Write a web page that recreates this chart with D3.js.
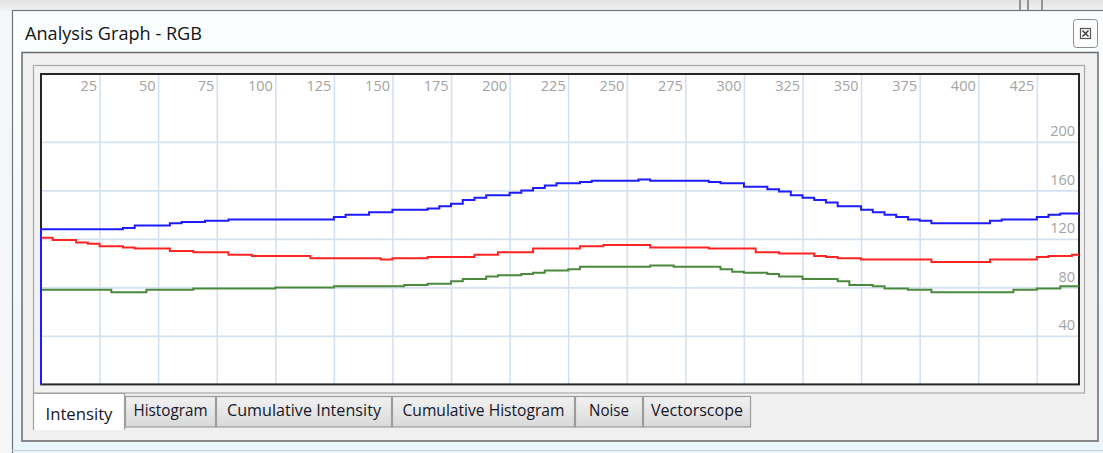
<!DOCTYPE html>
<html><head><meta charset="utf-8">
<script src="https://cdn.jsdelivr.net/npm/d3@7"></script>
<style>
html,body{margin:0;padding:0;background:#fff;}
svg{display:block;font-family:"Open Sans","Noto Sans",sans-serif;}
</style></head>
<body><svg id="c" width="1103" height="453"></svg>
<script>
// ---- data (x sampled every 5 pixels of the profile, 0..440) ----
const xStep = 5;
const blueValues = [128,128,128,128,128,128,128,129,131,131,131,133,134,134,135,135,136,136,136,136,136,136,136,136,136,138,140,140,142,142,144,144,144,145,147,149,152,154,156,156,158,160,162,164,166,166,167,168,168,168,168,169,168,168,168,168,168,167,166,166,163,163,161,159,156,154,152,150,147,147,144,142,140,138,136,135,133,133,133,133,133,135,136,136,136,138,140,141,141];
const redValues = [121,119,119,117,116,114,114,113,112,112,112,110,110,109,109,109,107,107,106,106,106,106,106,104,104,104,104,104,104,103,104,104,104,105,105,105,105,107,107,109,109,109,112,112,112,112,114,114,115,115,115,115,113,113,113,113,113,112,112,112,112,109,109,108,108,108,106,105,104,104,103,103,103,103,103,103,101,101,101,101,101,103,103,103,103,105,106,106,107];
const greenValues = [78,78,78,78,78,78,76,76,76,78,78,78,78,79,79,79,79,79,79,79,80,80,80,80,80,81,81,81,81,81,81,82,82,83,83,85,87,87,89,90,90,91,92,94,94,95,97,97,97,97,97,97,98,98,97,97,97,97,95,93,92,92,91,89,89,87,87,87,85,82,82,81,79,79,78,78,76,76,76,76,76,76,76,78,78,79,79,81,81];
const xTicks = [25,50,75,100,125,150,175,200,225,250,275,300,325,350,375,400,425];
const yTicks = [40,80,120,160,200];
const xMax = 443, yMax = 256;
const tabs = ["Intensity","Histogram","Cumulative Intensity","Cumulative Histogram","Noise","Vectorscope"];
const tabEdges = [33,125,216,392,575,643,751];
const tabTextWidths = [67,74,154,162,40,92];
const titleText = "Analysis Graph - RGB";

const svg = d3.select("#c");
const defs = svg.append("defs");
const tg = defs.append("linearGradient").attr("id","titleG").attr("x1",0).attr("y1",0).attr("x2",0).attr("y2",1);
tg.append("stop").attr("offset","0").attr("stop-color","#fbfeff");
tg.append("stop").attr("offset","1").attr("stop-color","#e9f6fc");
const tabG = defs.append("linearGradient").attr("id","tabG").attr("x1",0).attr("y1",0).attr("x2",0).attr("y2",1);
tabG.append("stop").attr("offset","0").attr("stop-color","#f2f2f2");
tabG.append("stop").attr("offset","1").attr("stop-color","#d9d9d9");
const topG = defs.append("linearGradient").attr("id","topG").attr("x1",0).attr("y1",0).attr("x2",0).attr("y2",1);
topG.append("stop").attr("offset","0").attr("stop-color","#e2e2e2");
topG.append("stop").attr("offset","1").attr("stop-color","#f2f2f2");

// background outside window
svg.append("rect").attr("width",1103).attr("height",453).attr("fill","#f4f6f7");
svg.append("rect").attr("width",1103).attr("height",11).attr("fill","url(#topG)");
[1020,1028,1042].forEach(x=>svg.append("line").attr("x1",x).attr("x2",x).attr("y1",0).attr("y2",10).attr("stroke","#777").attr("stroke-width",1.5));

// window
svg.append("rect").attr("x",12.5).attr("y",10.5).attr("width",1100).attr("height",450)
  .attr("fill","url(#titleG)").attr("stroke","#6f7478").attr("stroke-width",1.2);
svg.append("text").attr("x",25).attr("y",40).attr("font-size",18).attr("fill","#141414")
  .attr("textLength",177).attr("lengthAdjust","spacingAndGlyphs").text(titleText);
svg.append("line").attr("x1",12).attr("x2",1103).attr("y1",450.5).attr("y2",450.5).attr("stroke","#c9ced2");

// close button
svg.append("rect").attr("x",1073.5).attr("y",19.5).attr("width",24).attr("height",28).attr("rx",3)
  .attr("fill","#fdfdfd").attr("stroke","#8a8d90");
svg.append("rect").attr("x",1080.5).attr("y",28.5).attr("width",10).attr("height",10)
  .attr("fill","none").attr("stroke","#555").attr("stroke-width",1.2);
svg.append("path").attr("d","M1082.5,30.5L1088.5,36.5M1088.5,30.5L1082.5,36.5")
  .attr("stroke","#444").attr("stroke-width",1.6);

// outer panel
svg.append("rect").attr("x",22).attr("y",52.5).attr("width",1076).attr("height",388.5)
  .attr("fill","#f0f0f0").attr("stroke","#6a6a6a").attr("stroke-width",1.5);
// inner panel (tab page)
svg.append("rect").attr("x",33.5).attr("y",65.5).attr("width",1051).attr("height",327.5)
  .attr("fill","#f2f2f2").attr("stroke","#a8a8a8").attr("stroke-width",1.2);

// plot area
const L = 41, R = 1079, T = 74, B = 384.4;
const x = d3.scaleLinear().domain([0,xMax]).range([L,R]);
const y = d3.scaleLinear().domain([0,yMax]).range([B,T]);
svg.append("rect").attr("x",L).attr("y",T).attr("width",R-L).attr("height",B-T).attr("fill","#fff");

defs.append("clipPath").attr("id","clipP").append("rect").attr("x",L-1).attr("y",T).attr("width",R-L+1).attr("height",B-T+1);

// vertical grid + x labels
const gx = svg.append("g").attr("transform",`translate(0,${T})`)
  .call(d3.axisBottom(x).tickValues(xTicks).tickSize(B-T).tickFormat(d3.format("d")));
gx.select(".domain").remove();
gx.selectAll(".tick line").attr("stroke","#d4e2f0").attr("stroke-width",1.6);
gx.selectAll(".tick text").attr("y",17).attr("dy",null).attr("x",-3).attr("text-anchor","end")
  .attr("fill","#a3a3a3").attr("font-size",14.5).attr("font-family","'Open Sans','Noto Sans',sans-serif");

// horizontal grid + y labels
const gy = svg.append("g").attr("transform",`translate(${R},0)`)
  .call(d3.axisLeft(y).tickValues(yTicks).tickSize(R-L).tickFormat(d3.format("d")));
gy.select(".domain").remove();
gy.selectAll(".tick line").attr("stroke","#d4e2f0").attr("stroke-width",1.6);
gy.selectAll(".tick text").attr("x",-4).attr("y",-6).attr("dy",null).attr("text-anchor","end")
  .attr("fill","#a3a3a3").attr("font-size",14.5).attr("font-family","'Open Sans','Noto Sans',sans-serif");

// plot border (lines drawn over it, as in the original)
svg.append("rect").attr("x",L).attr("y",T).attr("width",R-L).attr("height",B-T)
  .attr("fill","none").attr("stroke","#262626").attr("stroke-width",2);

// series lines
const line = d3.line().x(d=>x(d[0])).y(d=>y(d[1])).curve(d3.curveStepAfter);
function seriesPoints(vals){
  const pts = [[0,0]];
  vals.forEach((v,i)=>pts.push([i*xStep,v]));
  pts.push([xMax, vals[vals.length-1]]);
  return pts;
}
const plotG = svg.append("g").attr("clip-path","url(#clipP)");
[["#ff2424",redValues],["#4b8a3c",greenValues],["#1c1cff",blueValues]].forEach(([c,v])=>{
  plotG.append("path").attr("d",line(seriesPoints(v))).attr("fill","none")
    .attr("stroke",c).attr("stroke-width",2);
});

// tabs
tabs.forEach((t,i)=>{
  const x0 = tabEdges[i], x1 = tabEdges[i+1];
  const sel = i===0;
  if(sel){
    svg.append("path").attr("d",`M${x0+0.5},430 V393.5 H${x1-0.5} V430`)
      .attr("fill","#fff").attr("stroke","#a0a0a0").attr("stroke-width",1.2);
  } else {
    svg.append("rect").attr("x",x0+0.5).attr("y",396.5).attr("width",x1-x0-1).attr("height",30.5)
      .attr("fill","url(#tabG)").attr("stroke","#9c9c9c").attr("stroke-width",1.2);
  }
  const cx = (x0+x1)/2;
  svg.append("text").attr("x",cx).attr("y",sel?420:416).attr("text-anchor","middle")
    .attr("font-size",15.5).attr("fill","#161628")
    .attr("textLength",tabTextWidths[i]).attr("lengthAdjust","spacingAndGlyphs").text(t);
});
</script></body></html>
